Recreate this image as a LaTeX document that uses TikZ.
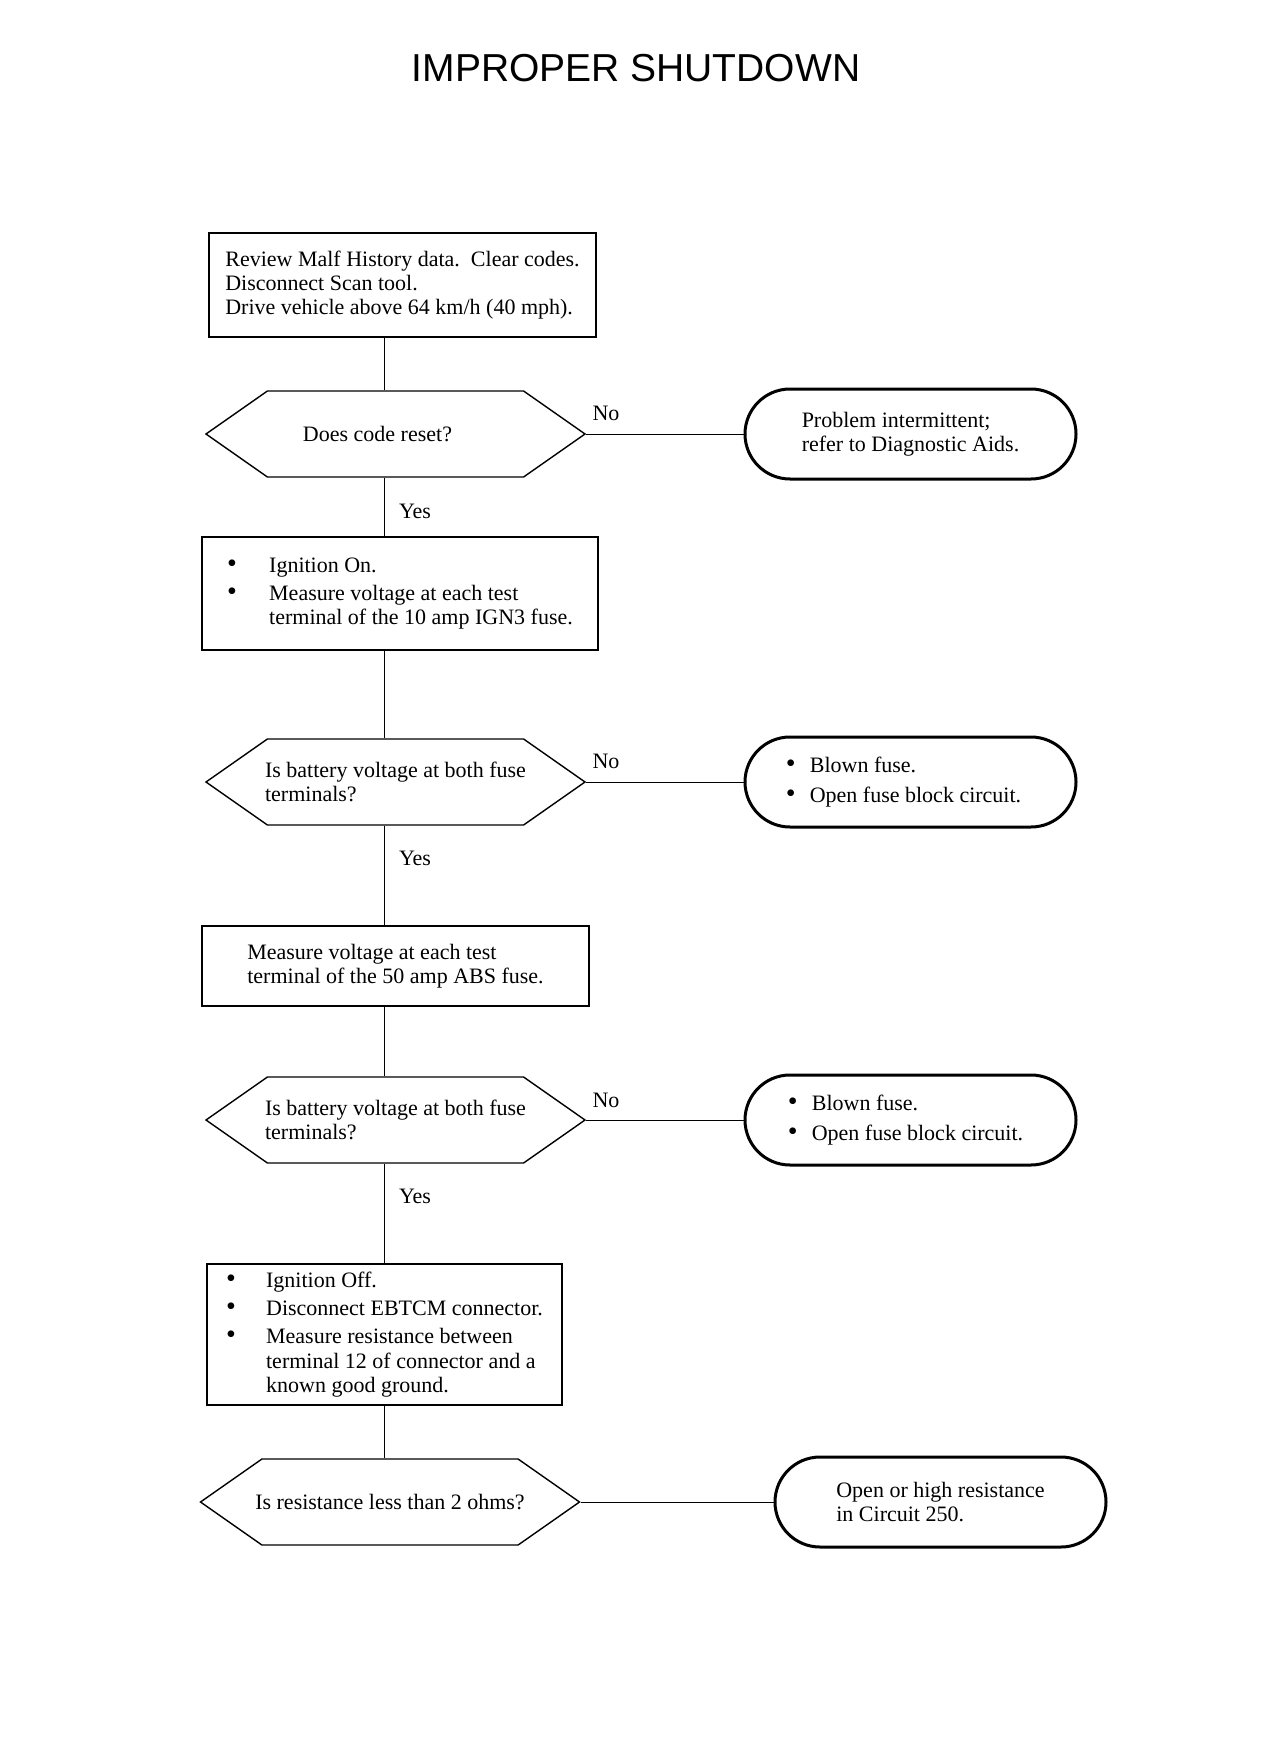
\documentclass[tikz,border=0pt]{standalone}
\usepackage{fontspec}
\setmainfont{Liberation Serif}
\newfontfamily\titlefont{Liberation Sans}
\usetikzlibrary{shapes.symbols,shapes.misc}
\newcommand{\bul}[1]{\makebox[#1][l]{\fontsize{14}{12}\selectfont\textbullet}}
\begin{document}
\begin{tikzpicture}[x=0.5pt,y=-0.5pt,
	every node/.style={font=\fontsize{11}{12.2}\selectfont,align=left},
	stepbox/.style={draw,line width=1pt,inner sep=0pt},
	query/.style={draw,line width=0.7pt,signal,signal to=west and east,signal pointer angle=70,
		minimum width=189.5pt,minimum height=43pt,inner xsep=-1.5pt,inner ysep=0pt},
	endbox/.style={draw,line width=1.5pt,rounded rectangle,minimum width=165.5pt,minimum height=45pt,inner sep=0pt},
	link/.style={line width=0.5pt}]
	\useasboundingbox (0,0) rectangle (1280,1738);
	\node[font=\titlefont\fontsize{19.5}{22}\selectfont] (title) at (636,68) {IMPROPER SHUTDOWN};
	% left column
	\node[stepbox,minimum width=193.5pt,minimum height=52pt] (b1) at (402.5,285) {Review Malf History data.\ \ Clear codes.\\Disconnect Scan tool.\\Drive vehicle above 64 km/h (40 mph).};
	\node[query] (d1) at (395.5,434) {Does code reset?\hspace*{18pt}};
	\node[stepbox,minimum width=198pt,minimum height=56.5pt] (b2) at (400,593.5) {\bul{21pt}Ignition On.\\[2pt]\bul{21pt}Measure voltage at each test\\\hspace*{21pt}terminal of the 10 amp IGN3 fuse.};
	\node[query] (d2) at (395.5,782) {Is battery voltage at both fuse\\terminals?};
	\node[stepbox,minimum width=193.5pt,minimum height=40pt] (b3) at (395.5,966) {Measure voltage at each test\\terminal of the 50 amp ABS fuse.};
	\node[query] (d3) at (395.5,1120) {Is battery voltage at both fuse\\terminals?};
	\node[stepbox,minimum width=177.5pt,minimum height=70.5pt] (b4) at (384.5,1334.5) {\bul{20pt}Ignition Off.\\[2pt]\bul{20pt}Disconnect EBTCM connector.\\[2pt]\bul{20pt}Measure resistance between\\\hspace*{20pt}terminal 12 of connector and a\\\hspace*{20pt}known good ground.};
	\node[query,inner xsep=-4pt] (d4) at (390,1502) {Is resistance less than 2 ohms?};
	% right column
	\node[endbox] (t1) at (910.5,434) {Problem intermittent;\\refer to Diagnostic Aids.};
	\node[endbox] (t2) at (910.5,782) {\bul{12pt}Blown fuse.\\[2.5pt]\bul{12pt}Open fuse block circuit.\hspace*{7pt}};
	\node[endbox] (t3) at (910.5,1120) {\bul{12pt}Blown fuse.\\[2.5pt]\bul{12pt}Open fuse block circuit.\hspace*{5pt}};
	\node[endbox] (t4) at (940.5,1502) {Open or high resistance\\in Circuit 250.};
	% connectors
	\coordinate (spine) at (384,0);
	\draw[link] (b1.south -| spine) -- (d1.north -| spine);
	\draw[link] (d1.south -| spine) -- (b2.north -| spine);
	\draw[link] (b2.south -| spine) -- (d2.north -| spine);
	\draw[link] (d2.south -| spine) -- (b3.north -| spine);
	\draw[link] (b3.south -| spine) -- (d3.north -| spine);
	\draw[link] (d3.south -| spine) -- (b4.north -| spine);
	\draw[link] (b4.south -| spine) -- (d4.north -| spine);
	\draw[link] (d1.east) -- (t1.west);
	\draw[link] (d2.east) -- (t2.west);
	\draw[link] (d3.east) -- (t3.west);
	\draw[link] (d4.east) -- (t4.west);
	% labels
	\node (no1) at (606,413) {No};
	\node (no2) at (606,761) {No};
	\node (no3) at (606,1100) {No};
	\node (yes1) at (415,511) {Yes};
	\node (yes2) at (415,858) {Yes};
	\node (yes3) at (415,1196) {Yes};
\end{tikzpicture}
\end{document}
